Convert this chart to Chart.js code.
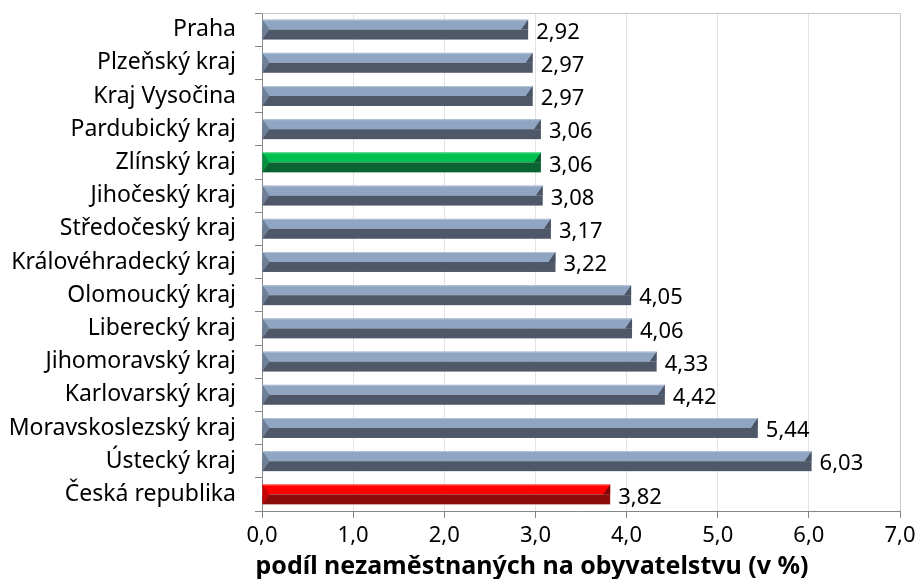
<!DOCTYPE html>
<html>
<head>
<meta charset="utf-8">
<script src="https://cdn.jsdelivr.net/npm/chart.js@4.4.1/dist/chart.umd.min.js"></script>
<style>
  html, body { margin: 0; padding: 0; background: #fff; }
  #wrap { width: 919px; height: 579px; }
</style>
</head>
<body>
<div id="wrap"><canvas id="chart" width="919" height="579"></canvas></div>
<script>
'use strict';

/* ── DATA ── */
const regions = ['Praha', 'Plzeňský kraj', 'Kraj Vysočina', 'Pardubický kraj', 'Zlínský kraj',
  'Jihočeský kraj', 'Středočeský kraj', 'Královéhradecký kraj', 'Olomoucký kraj', 'Liberecký kraj',
  'Jihomoravský kraj', 'Karlovarský kraj', 'Moravskoslezský kraj', 'Ústecký kraj', 'Česká republika'];
const shares = [2.92, 2.97, 2.97, 3.06, 3.06, 3.08, 3.17, 3.22, 4.05, 4.06, 4.33, 4.42, 5.44, 6.03, 3.82];
const axisTitle = 'podíl nezaměstnaných na obyvatelstvu (v %)';

/* ── palette: light top half, dark bottom half, bevel wedges ── */
const PAL = {
  base:  { top: '#8FA5C2', bottom: '#4E5869', wedge: '#6E7F98', edge: '#4A5464', hi: '#B4C3D6' },
  green: { top: '#00C050', bottom: '#0B6331', wedge: '#05913F', edge: '#0A5A2D', hi: '#5ED98E' },
  red:   { top: '#FF0000', bottom: '#8C0C0C', wedge: '#C70606', edge: '#7D0A0A', hi: '#FF7070' },
};
function palFor(label) {
  if (label === 'Zlínský kraj') return PAL.green;
  if (label === 'Česká republika') return PAL.red;
  return PAL.base;
}

const FONT = "'Noto Sans', sans-serif";
const fmt = v => v.toFixed(2).replace('.', ',');

/* ── bevelled bars + value labels ── */
const bevelBars = {
  id: 'bevelBars',
  afterDatasetsDraw(chart) {
    const ctx = chart.ctx;
    const meta = chart.getDatasetMeta(0);
    ctx.save();
    meta.data.forEach((bar, i) => {
      const p = palFor(regions[i]);
      const left = bar.base, right = bar.x;
      const top = bar.y - bar.height / 2, bottom = bar.y + bar.height / 2;
      const mid = bar.y;
      const b = 7;
      ctx.fillStyle = p.top;
      ctx.fillRect(left, top, right - left, mid - top);
      ctx.fillStyle = p.bottom;
      ctx.fillRect(left, mid, right - left, bottom - mid);
      ctx.fillStyle = p.hi;
      ctx.fillRect(left, top, right - left, 1);
      // left wedge
      ctx.fillStyle = p.wedge;
      ctx.beginPath();
      ctx.moveTo(left, top);
      ctx.lineTo(left + b, mid);
      ctx.lineTo(left, bottom);
      ctx.closePath();
      ctx.fill();
      // right wedge
      ctx.fillStyle = p.edge;
      ctx.beginPath();
      ctx.moveTo(right, top);
      ctx.lineTo(right, mid);
      ctx.lineTo(right - b, mid);
      ctx.closePath();
      ctx.fill();

      ctx.fillStyle = '#000';
      ctx.font = '22px ' + FONT;
      ctx.textAlign = 'left';
      ctx.textBaseline = 'middle';
      ctx.fillText(fmt(shares[i]), right + 8, mid + 3);
    });
    ctx.restore();
  },
  afterDraw(chart) {
    const { ctx, chartArea: a } = chart;
    ctx.save();
    // plot frame, top and right
    ctx.strokeStyle = '#C8C8C8';
    ctx.lineWidth = 1;
    ctx.beginPath();
    ctx.moveTo(a.left, a.top + 0.5);
    ctx.lineTo(a.right + 0.5, a.top + 0.5);
    ctx.lineTo(a.right + 0.5, a.bottom);
    ctx.stroke();
    // axis title (sits left of the plot centre in the original)
    ctx.fillStyle = '#000';
    ctx.font = 'bold 25px ' + FONT;
    ctx.textAlign = 'center';
    ctx.textBaseline = 'middle';
    ctx.fillText(axisTitle, 532, 567);
    ctx.restore();
  },
};

new Chart(document.getElementById('chart'), {
  type: 'bar',
  data: {
    labels: regions,
    datasets: [{
      data: shares,
      backgroundColor: 'rgba(0,0,0,0)',
      borderWidth: 0,
      categoryPercentage: 1,
      barPercentage: 0.6,
    }],
  },
  options: {
    indexAxis: 'y',
    responsive: false,
    animation: false,
    layout: { padding: { top: 13, right: 19, left: 0, bottom: 0 } },
    plugins: { legend: { display: false }, tooltip: { enabled: false } },
    scales: {
      x: {
        min: 0,
        max: 7,
        ticks: {
          stepSize: 1,
          color: '#000',
          padding: 5,
          font: { family: FONT, size: 22 },
          callback: v => v.toFixed(1).replace('.', ','),
        },
        grid: { color: '#E3E3E3', tickColor: '#868686', tickLength: 7 },
        border: { color: '#868686' },
        afterFit: s => { s.height = 68; s.paddingLeft = 0; s.paddingRight = 0; },
      },
      y: {
        ticks: { color: '#000', padding: 19, font: { family: FONT, size: 23 } },
        grid: { offset: true, drawOnChartArea: false, color: '#868686', tickLength: 7 },
        border: { color: '#868686' },
        afterFit: s => { s.width = 262; s.paddingTop = 0; s.paddingBottom = 0; },
      },
    },
  },
  plugins: [bevelBars],
});
</script>
</body>
</html>
